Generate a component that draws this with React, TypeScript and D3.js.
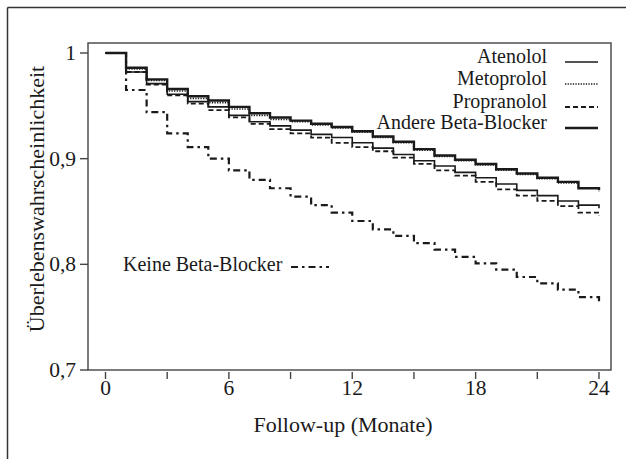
import React from "react";
import * as d3 from "d3";

// month index (last entry = end of follow-up)
const months = [0, 1, 2, 3, 4, 5, 6, 7, 8, 9, 10, 11, 12, 13, 14, 15, 16, 17, 18, 19, 20, 21, 22, 23, 24];

const atenolol = [1.0, 0.982, 0.971, 0.961, 0.954, 0.949, 0.941, 0.935, 0.931, 0.927, 0.923, 0.92, 0.915, 0.91, 0.904, 0.898, 0.893, 0.887, 0.882, 0.876, 0.87, 0.865, 0.86, 0.856, 0.853];
const metoprolol = [1.0, 0.985, 0.974, 0.964, 0.957, 0.953, 0.947, 0.941, 0.937, 0.935, 0.932, 0.929, 0.925, 0.92, 0.915, 0.908, 0.902, 0.898, 0.894, 0.889, 0.885, 0.881, 0.877, 0.872, 0.869];
const propranolol = [1.0, 0.982, 0.97, 0.96, 0.952, 0.946, 0.939, 0.933, 0.928, 0.924, 0.92, 0.915, 0.911, 0.907, 0.901, 0.895, 0.889, 0.884, 0.878, 0.871, 0.865, 0.86, 0.855, 0.849, 0.846];
const andere = [1.0, 0.986, 0.975, 0.966, 0.959, 0.955, 0.949, 0.943, 0.939, 0.936, 0.933, 0.93, 0.926, 0.921, 0.916, 0.909, 0.903, 0.899, 0.895, 0.89, 0.886, 0.882, 0.878, 0.872, 0.87];
const keine = [1.0, 0.965, 0.944, 0.924, 0.911, 0.9, 0.889, 0.88, 0.872, 0.864, 0.856, 0.849, 0.841, 0.833, 0.827, 0.82, 0.814, 0.807, 0.801, 0.795, 0.788, 0.782, 0.776, 0.769, 0.765];

const xTicks = [0, 3, 6, 9, 12, 15, 18, 21, 24];
const xTickLabels = ["0", "", "6", "", "12", "", "18", "", "24"];
const yTicks = [0.7, 0.8, 0.9, 1];
const yTickLabels = ["0,7", "0,8", "0,9", "1"];

const legendNames = ["Atenolol", "Metoprolol", "Propranolol", "Andere Beta-Blocker"];

const FONT = "'Liberation Serif', 'Times New Roman', serif";
const INK = "#1a1a1a";

export default function App() {
  const box = { left: 88, top: 43, right: 611, bottom: 370 };
  const x = d3.scaleLinear().domain([0, 24]).range([105.5, 599]);
  const y = d3.scaleLinear().domain([0.7, 1]).range([370, 53]);

  const line = d3
    .line<number>()
    .x((_, i) => x(months[i]))
    .y((d) => y(d))
    .curve(d3.curveStepAfter);

  const series = [
    { name: "Atenolol", values: atenolol, width: 1.6, dash: "none" },
    { name: "Metoprolol", values: metoprolol, width: 1.6, dash: "1.3 1.3" },
    { name: "Propranolol", values: propranolol, width: 1.8, dash: "5 3" },
    { name: "Andere Beta-Blocker", values: andere, width: 2.4, dash: "none" },
  ];
  const keineStyle = { width: 2.2, dash: "7 4 2.5 4" };

  const legendY = [62, 84, 107, 128];

  return (
    <svg width={626} height={459} style={{ position: "absolute", left: 0, top: 0, background: "#fff" }}>
      {/* outer frame (top and left visible) */}
      <line x1={7.5} y1={7.5} x2={626} y2={7.5} stroke="#333" strokeWidth={1.5} />
      <line x1={7.5} y1={7.5} x2={7.5} y2={459} stroke="#333" strokeWidth={1.5} />

      {/* plot box */}
      <rect
        x={box.left}
        y={box.top}
        width={box.right - box.left}
        height={box.bottom - box.top}
        fill="none"
        stroke="#444"
        strokeWidth={1.4}
      />

      {/* y ticks */}
      {yTicks.map((t, i) => (
        <g key={t}>
          <line x1={80} x2={box.left} y1={y(t)} y2={y(t)} stroke="#444" strokeWidth={1.4} />
          <text x={76} y={y(t) + 7} textAnchor="end" fontFamily={FONT} fontSize={21.5} fill={INK}>
            {yTickLabels[i]}
          </text>
        </g>
      ))}

      {/* x ticks */}
      {xTicks.map((t, i) => (
        <g key={t}>
          <line x1={x(t)} x2={x(t)} y1={box.bottom + 2} y2={box.bottom + 9} stroke="#444" strokeWidth={1.4} />
          <text x={x(t)} y={395} textAnchor="middle" fontFamily={FONT} fontSize={21.5} fill={INK}>
            {xTickLabels[i]}
          </text>
        </g>
      ))}

      {/* axis titles */}
      <text x={343} y={432} textAnchor="middle" fontFamily={FONT} fontSize={22} fill={INK}>
        Follow-up (Monate)
      </text>
      <text
        transform={`translate(44, 199) rotate(-90)`}
        textAnchor="middle"
        fontFamily={FONT}
        fontSize={22}
        fill={INK}
      >
        Überlebenswahrscheinlichkeit
      </text>

      {/* survival curves */}
      {series.map((s) => (
        <path
          key={s.name}
          d={line(s.values) || ""}
          fill="none"
          stroke={INK}
          strokeWidth={s.width}
          strokeDasharray={s.dash}
        />
      ))}
      <path
        d={line(keine) || ""}
        fill="none"
        stroke={INK}
        strokeWidth={keineStyle.width}
        strokeDasharray={keineStyle.dash}
      />

      {/* legend */}
      {series.map((s, i) => (
        <g key={s.name}>
          <text x={547} y={legendY[i] + 1} textAnchor="end" fontFamily={FONT} fontSize={20} fill={INK}>
            {legendNames[i]}
          </text>
          <line
            x1={565}
            x2={598}
            y1={legendY[i]}
            y2={legendY[i]}
            stroke={INK}
            strokeWidth={s.width}
            strokeDasharray={s.dash}
          />
        </g>
      ))}
      <text x={123} y={271} fontFamily={FONT} fontSize={20} fill={INK}>
        Keine Beta-Blocker
      </text>
      <line
        x1={291}
        x2={329}
        y1={267}
        y2={267}
        stroke={INK}
        strokeWidth={keineStyle.width}
        strokeDasharray={keineStyle.dash}
      />
    </svg>
  );
}
